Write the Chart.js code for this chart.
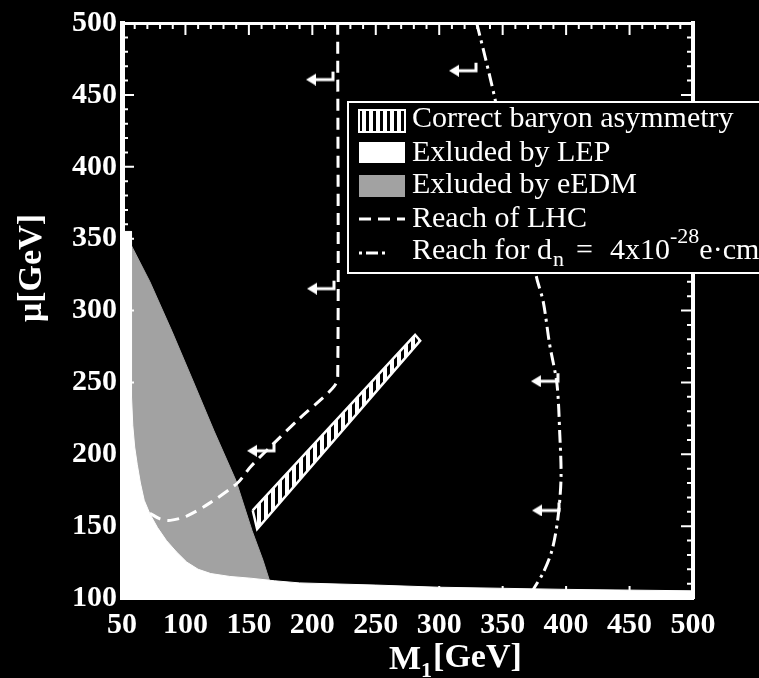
<!DOCTYPE html>
<html>
<head>
<meta charset="utf-8">
<script src="https://cdn.jsdelivr.net/npm/chart.js@4/dist/chart.umd.min.js"></script>
<style>
  html, body { margin: 0; padding: 0; background: #000; }
  #wrap { width: 759px; height: 678px; position: relative; }
</style>
</head>
<body>
<div id="wrap"><canvas id="myChart"></canvas></div>
<script>
// tick labels
var xTickLabels = [50, 100, 150, 200, 250, 300, 350, 400, 450, 500]
var yTickLabels = [100, 150, 200, 250, 300, 350, 400, 450, 500]

// Exluded by eEDM (gray region, lower part is covered by LEP)
var eedmM1 = [50, 57.5, 72, 89.4, 106, 122.5, 139.8, 152.4, 161.1, 166.6, 168, 50]
var eedmMu = [345, 345, 320, 285.5, 251, 216.3, 181.7, 147.1, 126.3, 111.1, 100, 100]

// Exluded by LEP (white region)
var lepM1 = [50, 50, 57.5, 57.5, 58.5, 60, 62, 64.5, 67.5, 72, 78, 85, 93, 101, 110, 120, 135, 151, 170, 190, 250, 300, 400, 500, 500]
var lepMu = [100, 355, 355, 240, 220, 205, 193, 180, 168, 158.5, 149, 140, 132, 125, 120, 117, 115, 113.8, 112, 110.5, 109, 107.5, 106, 105, 100]

// Correct baryon asymmetry (hatched band)
var baryonM1 = [153, 281, 285, 156.5, 153]
var baryonMu = [161, 283, 279, 148, 161]

// Reach of LHC
var lhcM1 = [72, 80, 88, 101, 119, 141, 151, 169, 190, 208, 217, 220, 220]
var lhcMu = [159, 155, 154, 157, 166, 180, 191, 207, 225, 239, 247, 253, 500]

// Reach for d_n = 4x10^-28 e.cm
var dnM1 = [329.5, 336, 344, 355, 367, 377, 382, 387, 392.8, 395, 396, 393.6, 388.9, 381.8, 373.9, 371.5]
var dnMu = [500, 477, 447, 400, 360, 322, 306, 276.5, 248.8, 214, 183.7, 156, 133.2, 117.3, 105.5, 100]

// arrows pointing to allowed side
var lhcArrowM1 = [206.8, 207.6, 160.3]
var lhcArrowMu = [462, 316.6, 203.8]
var dnArrowM1 = [319.5, 384.1, 384.9]
var dnArrowMu = [468.2, 252.2, 162.3]

var GRAY = '#a2a2a2'
var SERIF = "'Liberation Serif', 'Times New Roman', serif"

function pts(xs, ys){
    return xs.map(function(v, i){ return {x: v, y: ys[i]} })
}

// vertical hatch for baryon band
var hatchTile = document.createElement('canvas')
hatchTile.width = 7
hatchTile.height = 7
var hg = hatchTile.getContext('2d')
hg.fillStyle = '#fff'
hg.fillRect(0, 0, 7, 7)
hg.fillStyle = '#000'
hg.fillRect(2, 0, 3, 7)
var hatch = hg.createPattern(hatchTile, 'repeat')

// little arrow icon  <--'
var arrowImg = document.createElement('canvas')
arrowImg.width = 30
arrowImg.height = 16
var ag = arrowImg.getContext('2d')
ag.strokeStyle = '#fff'
ag.fillStyle = '#fff'
ag.lineWidth = 3
ag.beginPath()
ag.moveTo(7, 10)
ag.lineTo(27, 10)
ag.lineTo(27, 2)
ag.stroke()
ag.beginPath()
ag.moveTo(0, 10)
ag.lineTo(10, 4)
ag.lineTo(10, 16)
ag.closePath()
ag.fill()

var frameTicks = {
    id: 'frameTicks',
    afterDatasetsDraw: function(chart){
        var ctx = chart.ctx, a = chart.chartArea
        var x = chart.scales.x, y = chart.scales.y
        ctx.save()
        ctx.strokeStyle = '#fff'
        ctx.lineWidth = 2
        ctx.beginPath()
        x.ticks.forEach(function(t){
            var px = x.getPixelForValue(t.value)
            var len = xTickLabels.indexOf(t.value) >= 0 ? 12 : 6
            ctx.moveTo(px, a.bottom); ctx.lineTo(px, a.bottom - len)
            ctx.moveTo(px, a.top); ctx.lineTo(px, a.top + len)
        })
        y.ticks.forEach(function(t){
            var py = y.getPixelForValue(t.value)
            var len = yTickLabels.indexOf(t.value) >= 0 ? 12 : 6
            ctx.moveTo(a.left, py); ctx.lineTo(a.left + len, py)
            ctx.moveTo(a.right, py); ctx.lineTo(a.right - len, py)
        })
        ctx.stroke()
        ctx.restore()
    },
    afterDraw: function(chart){
        var ctx = chart.ctx
        ctx.save()
        ctx.fillStyle = '#fff'
        // x title  M1[GeV]
        ctx.textBaseline = 'alphabetic'
        ctx.textAlign = 'left'
        ctx.font = 'bold 34px ' + SERIF
        ctx.fillText('M', 389, 669)
        var mw = ctx.measureText('M').width
        ctx.font = 'bold 22px ' + SERIF
        ctx.fillText('1', 389 + mw, 677)
        var ow = ctx.measureText('1').width
        ctx.font = 'bold 34px ' + SERIF
        ctx.fillText('[GeV]', 389 + mw + ow + 1, 667)
        // y title  mu[GeV]
        ctx.save()
        ctx.translate(41, 268)
        ctx.rotate(-Math.PI / 2)
        ctx.textAlign = 'center'
        ctx.font = 'bold 34px ' + SERIF
        ctx.fillText('\u03bc[GeV]', 0, 0)
        ctx.restore()

        // legend box
        var L = 348, T = 102, B = 273
        ctx.fillStyle = '#000'
        ctx.fillRect(L, T, 759 - L + 10, B - T)
        ctx.strokeStyle = '#fff'
        ctx.lineWidth = 2
        ctx.strokeRect(L, T, 759 - L + 10, B - T)

        var sx = 359, sw = 46, tx = 412
        var ds = chart.data.datasets
        // swatches
        ctx.fillStyle = hatch
        ctx.fillRect(sx, 110, sw, 22)
        ctx.strokeStyle = '#fff'
        ctx.lineWidth = 2
        ctx.strokeRect(sx, 110, sw, 22)
        ctx.fillStyle = '#fff'
        ctx.fillRect(sx, 142, sw, 21)
        ctx.fillStyle = GRAY
        ctx.fillRect(sx, 175, sw, 22)
        ctx.lineWidth = 3
        ctx.setLineDash(ds[3].borderDash)
        ctx.beginPath(); ctx.moveTo(sx, 219); ctx.lineTo(sx + sw, 219); ctx.stroke()
        ctx.setLineDash([3, 4, 12, 4, 3, 20])
        ctx.beginPath(); ctx.moveTo(sx, 253); ctx.lineTo(sx + sw, 253); ctx.stroke()
        ctx.setLineDash([])

        // texts
        ctx.fillStyle = '#fff'
        ctx.textAlign = 'left'
        ctx.font = '30px ' + SERIF
        ctx.fillText(ds[2].label, tx, 127)
        ctx.fillText(ds[1].label, tx, 161)
        ctx.fillText(ds[0].label, tx, 193)
        ctx.fillText(ds[3].label, tx, 227)
        ctx.fillText('Reach for d', tx, 259)
        var cx = tx + ctx.measureText('Reach for d').width
        ctx.fillText('=', 576, 259)
        ctx.fillText('4x10', 610, 259)
        var tw = ctx.measureText('4x10').width
        ctx.font = '22px ' + SERIF
        ctx.fillText('n', cx + 1, 266)
        ctx.fillText('-28', 610 + tw, 243)
        var sw2 = ctx.measureText('-28').width
        ctx.font = '30px ' + SERIF
        ctx.fillText('e\u00b7cm', 610 + tw + sw2, 259)
        ctx.restore()
    }
}

var ctxEl = document.getElementById('myChart').getContext('2d')
var chart = new Chart(ctxEl, {
    type: 'line',
    data: {
        datasets: [{
            label: 'Exluded by eEDM',
            data: pts(eedmM1, eedmMu),
            order: 7,
            fill: 'shape',
            backgroundColor: GRAY,
            borderColor: GRAY,
            borderWidth: 1,
            pointRadius: 0
        }, {
            label: 'Exluded by LEP',
            data: pts(lepM1, lepMu),
            order: 6,
            fill: 'shape',
            backgroundColor: '#fff',
            borderColor: '#fff',
            borderWidth: 1,
            pointRadius: 0
        }, {
            label: 'Correct baryon asymmetry',
            data: pts(baryonM1, baryonMu),
            order: 5,
            fill: 'shape',
            backgroundColor: hatch,
            borderColor: '#fff',
            borderWidth: 2.5,
            pointRadius: 0
        }, {
            label: 'Reach of LHC',
            data: pts(lhcM1, lhcMu),
            order: 4,
            fill: false,
            borderColor: '#fff',
            borderWidth: 3,
            borderDash: [12, 7],
            tension: 0.3,
            pointRadius: 0
        }, {
            label: 'Reach for dn',
            data: pts(dnM1, dnMu),
            order: 3,
            fill: false,
            borderColor: '#fff',
            borderWidth: 3,
            borderDash: [13, 5, 3, 5],
            tension: 0.3,
            pointRadius: 0
        }, {
            label: 'LHC arrows',
            data: pts(lhcArrowM1, lhcArrowMu),
            order: 2,
            showLine: false,
            pointStyle: arrowImg,
            pointRadius: 10
        }, {
            label: 'dn arrows',
            data: pts(dnArrowM1, dnArrowMu),
            order: 1,
            showLine: false,
            pointStyle: arrowImg,
            pointRadius: 10
        }]
    },
    options: {
        responsive: true,
        maintainAspectRatio: false,
        animation: false,
        layout: { padding: 0 },
        plugins: {
            legend: { display: false },
            tooltip: { enabled: false }
        },
        scales: {
            x: {
                type: 'linear',
                position: 'bottom',
                min: 50,
                max: 500,
                grid: { display: false, drawTicks: false },
                border: { display: true, color: '#fff', width: 4 },
                ticks: {
                    stepSize: 10,
                    autoSkip: false,
                    maxRotation: 0,
                    padding: 9,
                    color: '#fff',
                    font: { family: SERIF, size: 30, weight: 'bold' },
                    callback: function(v){ return xTickLabels.indexOf(v) >= 0 ? String(v) : '' }
                },
                afterFit: function(s){ s.height = 80 }
            },
            y: {
                type: 'linear',
                position: 'left',
                min: 100,
                max: 500,
                grid: { display: false, drawTicks: false },
                border: { display: true, color: '#fff', width: 5 },
                ticks: {
                    stepSize: 10,
                    autoSkip: false,
                    padding: 5,
                    color: '#fff',
                    font: { family: SERIF, size: 30, weight: 'bold' },
                    callback: function(v){ return yTickLabels.indexOf(v) >= 0 ? String(v) : '' }
                },
                afterFit: function(s){ s.width = 122 }
            },
            x2: {
                type: 'linear',
                position: 'top',
                min: 50,
                max: 500,
                grid: { display: false },
                border: { display: true, color: '#fff', width: 3 },
                ticks: { display: false },
                afterFit: function(s){ s.height = 20 }
            },
            y2: {
                type: 'linear',
                position: 'right',
                min: 100,
                max: 500,
                grid: { display: false },
                border: { display: true, color: '#fff', width: 4 },
                ticks: { display: false },
                afterFit: function(s){ s.width = 66 }
            }
        }
    },
    plugins: [frameTicks]
})
</script>
</body>
</html>
